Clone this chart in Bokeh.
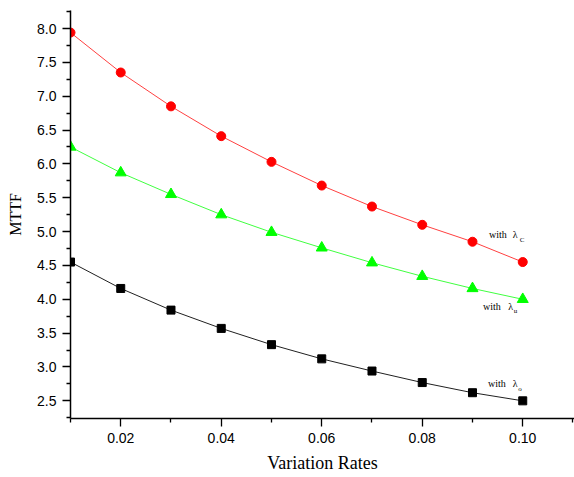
from bokeh.plotting import figure
from bokeh.models import Range1d, FixedTicker, NumeralTickFormatter, Label
from bokeh.embed import file_html
from bokeh.resources import INLINE

rates = [0.01, 0.02, 0.03, 0.04, 0.05, 0.06, 0.07, 0.08, 0.09, 0.10]
mttf_c = [7.94, 7.35, 6.85, 6.41, 6.03, 5.68, 5.37, 5.10, 4.85, 4.55]
mttf_u = [6.25, 5.87, 5.55, 5.25, 4.99, 4.76, 4.54, 4.34, 4.16, 4.00]
mttf_o = [4.55, 4.16, 3.84, 3.57, 3.33, 3.12, 2.94, 2.77, 2.62, 2.50]

x_ticks = [0.02, 0.04, 0.06, 0.08, 0.10]
x_minor = [0.01, 0.03, 0.05, 0.07, 0.09, 0.11]
y_ticks = [2.5, 3.0, 3.5, 4.0, 4.5, 5.0, 5.5, 6.0, 6.5, 7.0, 7.5, 8.0]
y_minor = [2.25 + 0.5 * i for i in range(13)]

# series labels: (x of "with", y, x of lambda, x of subscript, y of subscript, subscript)
series_labels = [
    (0.0933, 4.96, 0.0980, 0.0994, 4.88, "C"),
    (0.0921, 3.89, 0.0971, 0.0982, 3.82, "u"),
    (0.0931, 2.76, 0.0980, 0.0991, 2.68, "o"),
]

p = figure(width=574, height=477, output_backend="svg", toolbar_location=None,
           x_range=Range1d(0.01, 0.1103), y_range=Range1d(2.239, 8.266),
           min_border_left=70, min_border_right=0, min_border_top=10, min_border_bottom=59)
p.outline_line_color = None
p.grid.visible = False
p.background_fill_color = "white"
p.border_fill_color = "white"

p.line(rates, mttf_c, color="#ff4040", line_width=1)
p.scatter(rates, mttf_c, marker="circle", size=9, color="#ff0000")
p.line(rates, mttf_u, color="#40ff40", line_width=1)
p.scatter(rates, mttf_u, marker="triangle", size=11, color="#00ff00")
p.line(rates, mttf_o, color="#202020", line_width=1)
p.scatter(rates, mttf_o, marker="square", size=8, color="#000000")

for ax in (p.xaxis[0], p.yaxis[0]):
    ax.axis_line_width = 1.5
    ax.axis_line_color = "black"
    ax.major_tick_line_color = "black"
    ax.minor_tick_line_color = "black"
    ax.major_tick_line_width = 1.3
    ax.minor_tick_line_width = 1.3
    ax.major_tick_in = 0
    ax.major_tick_out = 8
    ax.minor_tick_in = 0
    ax.minor_tick_out = 4
    ax.major_label_text_font = "Liberation Sans"
    ax.major_label_text_font_size = "14px"
    ax.major_label_text_color = "black"
    ax.axis_label_text_font = "Liberation Serif"
    ax.axis_label_text_font_style = "normal"
    ax.axis_label_text_color = "black"

p.xaxis.ticker = FixedTicker(ticks=x_ticks, minor_ticks=x_minor)
p.yaxis.ticker = FixedTicker(ticks=y_ticks, minor_ticks=y_minor)
p.xaxis.formatter = NumeralTickFormatter(format="0.00")
p.yaxis.formatter = NumeralTickFormatter(format="0.0")
p.xaxis.axis_label = "Variation Rates"
p.yaxis.axis_label = "MTTF"
p.xaxis.axis_label_text_font_size = "18px"
p.yaxis.axis_label_text_font_size = "16px"
p.xaxis.major_label_standoff = 6
p.xaxis.axis_label_standoff = 7
p.yaxis.major_label_standoff = 6
p.yaxis.axis_label_standoff = 10

for wx, wy, lx, sx, sy, sub in series_labels:
    p.add_layout(Label(x=wx, y=wy, text="with", text_font="Liberation Serif",
                       text_font_size="10px", text_baseline="middle", text_color="black"))
    p.add_layout(Label(x=lx, y=wy, text="λ", text_font="Liberation Serif",
                       text_font_size="10px", text_baseline="middle", text_color="black"))
    p.add_layout(Label(x=sx, y=sy, text=sub, text_font="Liberation Serif",
                       text_font_size="7px", text_baseline="middle", text_color="black"))

open("out.html", "w").write(file_html(p, INLINE))
